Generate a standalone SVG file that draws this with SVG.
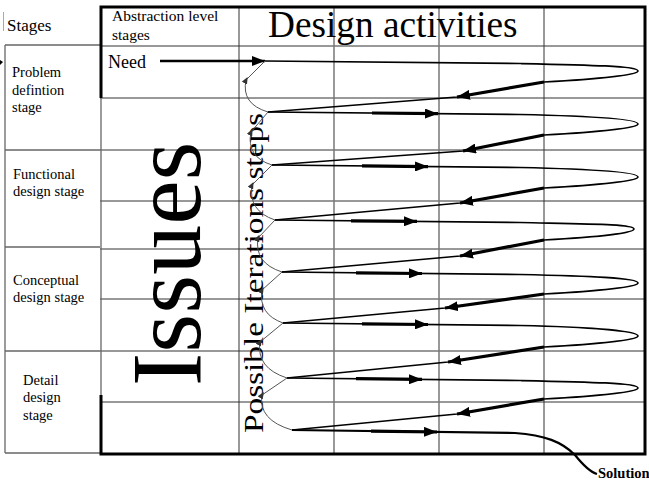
<svg xmlns="http://www.w3.org/2000/svg" width="649" height="480" viewBox="0 0 649 480">
<style>
.serif{font-family:"Liberation Serif","Times New Roman",serif;fill:#000}
.grid{stroke:#333;stroke-width:1;fill:none}
.gridg{stroke:#777;stroke-width:1.5;fill:none}
.left{stroke:#666;stroke-width:1.3;fill:none}
.border{stroke:#000;stroke-width:3;fill:none}
.flow{stroke:#000;stroke-width:1.7;fill:none;stroke-linejoin:round}
.stem{stroke:#000;stroke-width:3.2;fill:none;marker-end:url(#ah)}
.iter{stroke:#555;stroke-width:1;fill:none;marker-mid:url(#sah)}
</style>
<defs>
<marker id="ah" markerUnits="userSpaceOnUse" markerWidth="14" markerHeight="10" refX="13" refY="5" orient="auto">
<path d="M0,0 L13,5 L0,10 z" fill="#000"/>
</marker>
<marker id="sah" markerUnits="userSpaceOnUse" markerWidth="7" markerHeight="6" refX="3.5" refY="3" orient="auto">
<path d="M0,0 L7,3 L0,6 z" fill="#333"/>
</marker>
</defs>
<rect width="649" height="480" fill="#fff"/>

<g id="stages-table">
<line x1="3.5" y1="12" x2="3.5" y2="31" stroke="#aaa" stroke-width="1"/>
<path d="M0,60 L3,62 L0,65 z" fill="#000"/>
<text class="serif" x="7" y="31" font-size="17">Stages</text>
<line class="left" x1="5" y1="45" x2="100" y2="45"/>
<line class="left" x1="5" y1="45" x2="5" y2="453"/>
<line class="left" x1="5" y1="150" x2="100" y2="150"/>
<line class="left" x1="5" y1="247" x2="100" y2="247"/>
<line class="left" x1="5" y1="351" x2="100" y2="351"/>
<line class="left" x1="5" y1="453" x2="100" y2="453"/>
</g>
<g id="stage-problem"><text class="serif" font-size="14.5"><tspan x="12" y="77">Problem</tspan><tspan x="12" y="95">defintion</tspan><tspan x="12" y="112">stage</tspan></text></g>
<g id="stage-functional"><text class="serif" font-size="14.5"><tspan x="13" y="179">Functional</tspan><tspan x="13" y="196">design stage</tspan></text></g>
<g id="stage-conceptual"><text class="serif" font-size="14.5"><tspan x="13" y="285">Conceptual</tspan><tspan x="13" y="302">design stage</tspan></text></g>
<g id="stage-detail"><text class="serif" font-size="14.5"><tspan x="23" y="385">Detail</tspan><tspan x="23" y="402">design</tspan><tspan x="23" y="420">stage</tspan></text></g>

<g id="main-grid">
<line class="grid" x1="100" y1="46" x2="645" y2="46"/>
<line class="grid" x1="100" y1="98" x2="645" y2="98"/>
<line class="grid" x1="100" y1="150" x2="645" y2="150"/>
<line class="grid" x1="100" y1="201" x2="645" y2="201"/>
<line class="grid" x1="100" y1="249" x2="645" y2="249"/>
<line class="grid" x1="100" y1="299" x2="645" y2="299"/>
<line class="grid" x1="100" y1="351" x2="645" y2="351"/>
<line class="grid" x1="100" y1="402" x2="645" y2="402"/>
<line class="grid" x1="239" y1="7" x2="239" y2="454"/>
<line class="gridg" x1="334" y1="7" x2="334" y2="454"/>
<line class="gridg" x1="439" y1="7" x2="439" y2="454"/>
<line class="grid" x1="544" y1="7" x2="544" y2="454"/>
<line class="left" x1="101" y1="98" x2="101" y2="395"/>
<path class="border" d="M101,98 V7 H645 V454 H101 V395"/>
</g>

<g id="header">
<text class="serif" font-size="15.5"><tspan x="112" y="21">Abstraction level</tspan><tspan x="112" y="40">stages</tspan></text>
<text class="serif" x="268" y="37" font-size="37.3">Design activities</text>
</g>
<g id="issues"><text class="serif" font-size="100" transform="translate(200,386) rotate(-90)">Issues</text></g>
<g id="iterations-label"><text class="serif" font-size="28" textLength="320" lengthAdjust="spacingAndGlyphs" transform="translate(263,433) rotate(-90)">Possible Iterations steps</text></g>
<g id="need"><text class="serif" x="108" y="68" font-size="18">Need</text></g>
<g id="solution"><text class="serif" x="598" y="478" font-size="14.5" font-weight="bold">Solution</text></g>

<g id="connectors">
<line class="stem" x1="160" y1="61" x2="265" y2="61" style="stroke-width:2.5"/>
<path class="flow" d="M265,61 L520,63.5 C590,65 638,66 638,71 C638,75 600,79 544,82 L457,97 L268,112"/>
<path class="flow" d="M268,112 L520,114.5 C590,116 638,119 638,124 C638,128 600,132 544,135 L463,151 L272,165"/>
<path class="flow" d="M272,165 L520,167.5 C590,169 638,172 638,177 C638,181 600,185 544,188 L460,203 L275,220"/>
<path class="flow" d="M275,220 L520,222.5 C590,224 634,224 634,229 C634,233 600,237 544,240 L460,256 L282,272"/>
<path class="flow" d="M282,272 L520,274.5 C590,276 638,278 638,283 C638,287 600,291 544,294 L445,308 L283,323"/>
<path class="flow" d="M283,323 L520,325.5 C590,327 638,331 638,336 C638,340 600,344 544,347 L448,362 L287,378"/>
<path class="flow" d="M287,378 L520,380.5 C590,382 638,383 638,388 C638,392 600,396 544,399 L457,414 L292,430"/>
<path class="flow" d="M292,430 L515,433 C545,435 562,442 575,455 C583,465 590,472 597,474" style="stroke-width:2.2"/>
<line class="stem" x1="372" y1="113" x2="438" y2="113.7"/>
<line class="stem" x1="362" y1="165.9" x2="428" y2="166.6"/>
<line class="stem" x1="351" y1="220.8" x2="417" y2="221.4"/>
<line class="stem" x1="356" y1="272.8" x2="422" y2="273.5"/>
<line class="stem" x1="362" y1="323.8" x2="428" y2="324.5"/>
<line class="stem" x1="356" y1="378.7" x2="422" y2="379.4"/>
<line class="stem" x1="371" y1="431.1" x2="437" y2="432"/>
<line class="stem" x1="544" y1="82" x2="457" y2="97"/>
<line class="stem" x1="544" y1="135" x2="463" y2="151"/>
<line class="stem" x1="544" y1="188" x2="460" y2="203"/>
<line class="stem" x1="544" y1="240" x2="460" y2="256"/>
<line class="stem" x1="544" y1="294" x2="445" y2="308"/>
<line class="stem" x1="544" y1="347" x2="448" y2="362"/>
<line class="stem" x1="544" y1="399" x2="457" y2="414"/>
<path class="iter" d="M268,112 Q241,104 246,80 L265,61"/>
<path class="iter" d="M272,165 Q246,157 251,132 L268,112"/>
<path class="iter" d="M275,220 Q248,211 252,185 L272,165"/>
<path class="iter" d="M282,272 Q254,263 258,238 L275,220"/>
<path class="iter" d="M283,323 Q258,314 262,290 L282,272"/>
<path class="iter" d="M287,378 Q256,368 260,342 L283,323"/>
<path class="iter" d="M292,430 Q258,420 262,395 L287,378"/>
</g>
</svg>
